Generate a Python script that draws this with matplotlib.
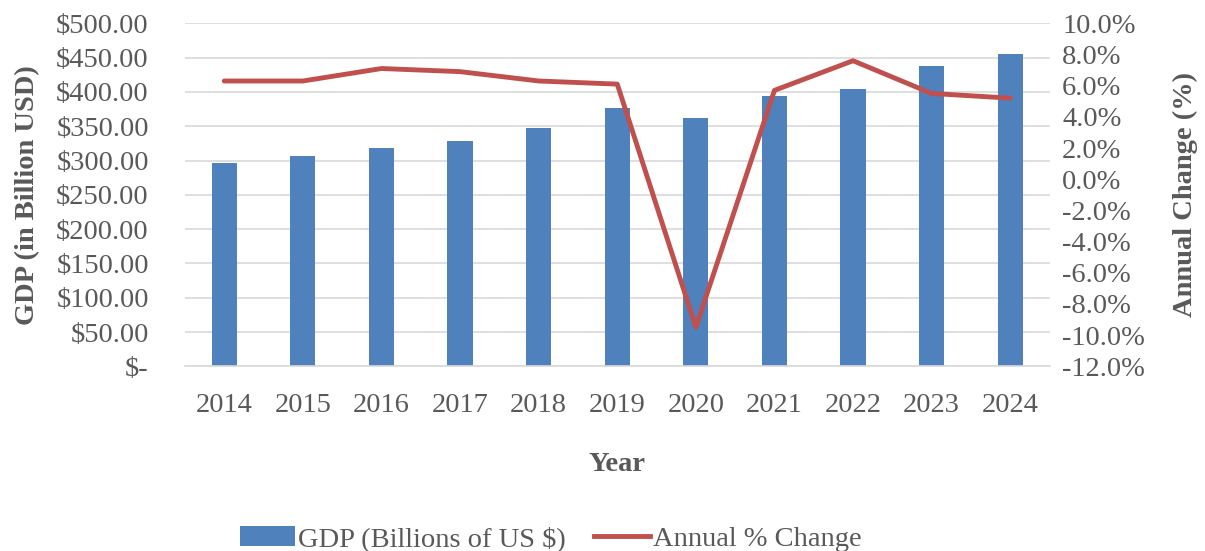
import numpy as np
import matplotlib.pyplot as plt
from matplotlib.lines import Line2D
from matplotlib.patches import Patch

# GDP and growth by year
years = ['2014', '2015', '2016', '2017', '2018', '2019', '2020', '2021', '2022', '2023', '2024']
gdp = [296.4, 306.6, 318.7, 328.5, 346.8, 376.8, 361.8, 394.1, 404.4, 437.1, 455.3]
growth = [6.3, 6.3, 7.1, 6.9, 6.3, 6.1, -9.5, 5.7, 7.6, 5.5, 5.2]

left_ticks = np.arange(0, 501, 50)
right_ticks = np.arange(-12, 11, 2)

plt.rcParams['font.family'] = ['Liberation Serif', 'DejaVu Serif']
txt = '#595959'
bar_c = '#4f81bd'
line_c = '#c0504d'
grid_c = '#d9d9d9'

fig = plt.figure(figsize=(12.05, 5.51), dpi=100)
ax = fig.add_axes([0.1535, 0.3352, 0.7175, 0.6225])
ax2 = ax.twinx()

x = np.arange(len(years))
ax.bar(x, gdp, width=0.32, color=bar_c, zorder=2)
ax2.plot(x, growth, color=line_c, linewidth=3.5, solid_capstyle='round', zorder=3)

ax.set_xlim(-0.5, len(years) - 0.5)
ax.set_ylim(0, 500)
ax.set_yticks(left_ticks)
ax.set_yticklabels(['$-'] + ['$%.2f' % v for v in left_ticks[1:]])
ax.set_xticks(x)
ax.set_xticklabels(years)
ax.yaxis.grid(True, color=grid_c, linewidth=1.2, zorder=0)
ax.set_axisbelow(True)

ax2.set_ylim(-12, 10)
ax2.set_yticks(right_ticks)
ax2.set_yticklabels(['%.1f%%' % v for v in right_ticks])

for a in (ax, ax2):
    for s in a.spines.values():
        s.set_visible(False)
    a.tick_params(length=0, labelsize=20.5, labelcolor=txt)
ax.spines['bottom'].set_visible(True)
ax.spines['bottom'].set_color(grid_c)
ax.spines['bottom'].set_linewidth(1.2)
ax.tick_params(axis='y', pad=26)
ax.tick_params(axis='x', pad=19)
ax2.tick_params(axis='y', pad=9)

ax.set_xlabel('Year', fontsize=20.5, fontweight='bold', color=txt, labelpad=25)
fig.text(0.023, 0.6464, 'GDP (in Billion USD)', rotation=90, ha='center', va='center',
         fontsize=20.5, fontweight='bold', color=txt)
fig.text(0.984, 0.6464, 'Annual Change (%)', rotation=90, ha='center', va='center',
         fontsize=20.5, fontweight='bold', color=txt)

handles = [Patch(facecolor=bar_c, edgecolor='none'),
           Line2D([0], [0], color=line_c, linewidth=3.5)]
fig.legend(handles, ['GDP (Billions of US $)', 'Annual % Change'],
           loc='center', bbox_to_anchor=(0.457, 0.022), ncol=2, frameon=False,
           fontsize=20.5, labelcolor=txt, handlelength=1.95, handletextpad=0.1,
           columnspacing=1.0)

fig.savefig('out.png', dpi=100)
